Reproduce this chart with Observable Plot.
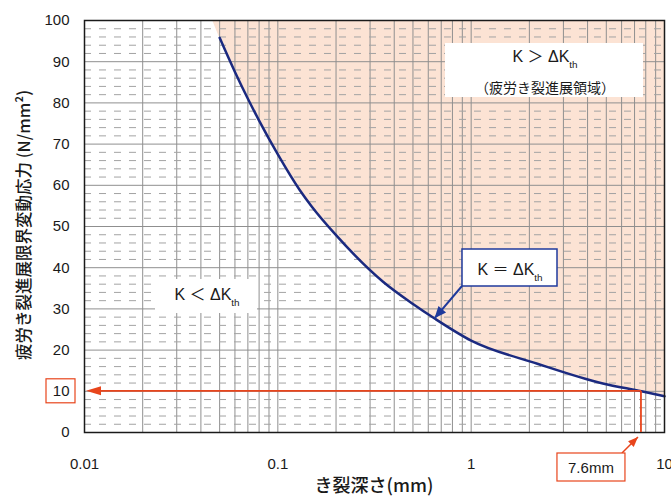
<!DOCTYPE html>
<html>
<head>
<meta charset="utf-8">
<script src="https://cdn.jsdelivr.net/npm/d3@7"></script>
<script src="https://cdn.jsdelivr.net/npm/@observablehq/plot@0.6"></script>
<style>
  html, body { margin: 0; padding: 0; background: #ffffff; }
  #chart svg { display: block; }
</style>
</head>
<body>
<div id="chart"></div>
<script>
// ---- data ----
const crackDepth      = [0.05, 0.06, 0.07, 0.08, 0.10, 0.13, 0.15, 0.20, 0.35, 0.50, 0.65, 1.0, 2.2, 4.8, 7.6, 10];
const thresholdStress = [95.8, 87.5, 81.0, 75.7, 67.5, 58.8, 54.8, 47.9, 36.6, 31.2, 27.6, 22.3, 16.7, 11.9, 10.0, 8.8];
const shadeStartDepth = 0.046;   // where the shaded region meets the top edge
const shadeTopStress  = 100;
const xTicks = [0.01, 0.1, 1, 10];
const yTicks = [0, 10, 20, 30, 40, 50, 60, 70, 80, 90, 100];
const xGridLines = [0.02,0.03,0.04,0.05,0.06,0.07,0.08,0.09,0.1,0.2,0.3,0.4,0.5,0.6,0.7,0.8,0.9,1,2,3,4,5,6,7,8,9];
const yMajorGrid = [10, 20, 30, 40, 50, 60, 70, 80, 90];
const yMinorGrid = d3.range(2, 100, 2).filter(v => v % 10 !== 0);
const markDepth = 7.6;     // mm
const markStress = 10;     // N/mm2
const pointerDepth = 0.65; // where the "K = ΔKth" arrow touches the curve

const curve = crackDepth.map((d, i) => ({depth: d, stress: thresholdStress[i]}));
const shade = [{depth: shadeStartDepth, stress: shadeTopStress}, ...curve];

const RED = "#e8451c", BLUE = "#1f3a9c", NAVY = "#1b2a80";
const LATIN = "'Liberation Sans', Arial, 'Noto Sans CJK JP', sans-serif";
const CJK = "'Noto Sans CJK JP', 'Liberation Sans', sans-serif";

function annotate(index, scales, values, dims) {
  const {x, y} = scales;
  const L = dims.marginLeft, B = dims.height - dims.marginBottom;
  const g = d3.create("svg:g");

  function head(tip, from, len, half, color) {
    const dx = tip[0] - from[0], dy = tip[1] - from[1], d = Math.hypot(dx, dy);
    const ux = dx / d, uy = dy / d;
    const bx = tip[0] - ux * len, by = tip[1] - uy * len;
    g.append("path")
      .attr("d", `M${tip[0]},${tip[1]}L${bx - uy * half},${by + ux * half}L${bx + uy * half},${by - ux * half}Z`)
      .attr("fill", color);
  }
  function kText(cx, base, rel, size) {
    const t = g.append("text").attr("x", cx).attr("y", base)
      .attr("text-anchor", "middle").attr("font-family", LATIN)
      .attr("font-size", size).attr("fill", "#1a1a1a");
    t.append("tspan").text(`K ${rel} ΔK`);
    t.append("tspan").attr("dy", 5.5).attr("font-size", size * 0.62).text("th");
  }

  // region label, upper right
  g.append("rect").attr("x", 445).attr("y", 43).attr("width", 198).attr("height", 54).attr("fill", "#fff");
  kText(545, 62, "＞", 16);
  g.append("text").attr("x", 545).attr("y", 87).attr("dominant-baseline", "central")
    .attr("text-anchor", "middle").attr("font-family", CJK).attr("font-size", 14)
    .attr("fill", "#1a1a1a").text("（疲労き裂進展領域）");

  // region label, lower left
  g.append("rect").attr("x", 155).attr("y", 279).attr("width", 102).attr("height", 34).attr("fill", "#fff");
  kText(207, 300, "＜", 16);

  // K = ΔKth callout
  const tip = [x(pointerDepth), y(thresholdStress[crackDepth.indexOf(pointerDepth)])];
  const start = [462, 286];
  g.append("line").attr("x1", start[0]).attr("y1", start[1]).attr("x2", tip[0]).attr("y2", tip[1])
    .attr("stroke", BLUE).attr("stroke-width", 2);
  head(tip, start, 12, 5, BLUE);
  g.append("rect").attr("x", 462).attr("y", 249).attr("width", 95).attr("height", 37)
    .attr("fill", "#fff").attr("stroke", BLUE).attr("stroke-width", 1.5);
  kText(510, 275, "＝", 16);

  // red reading lines
  const px = x(markDepth), py = y(markStress);
  g.append("line").attr("x1", px).attr("y1", py).attr("x2", L + 12).attr("y2", py)
    .attr("stroke", RED).attr("stroke-width", 1.8);
  head([L + 2, py], [px, py], 15, 4.5, RED);
  g.append("line").attr("x1", px).attr("y1", py).attr("x2", px).attr("y2", B)
    .attr("stroke", RED).attr("stroke-width", 1.8);

  // box around the "10" tick label
  g.append("rect").attr("x", L - 38).attr("y", py - 12).attr("width", 29).attr("height", 24)
    .attr("fill", "none").attr("stroke", RED).attr("stroke-width", 1.2);

  // 7.6mm label with arrow
  const aStart = [px - 19, B + 21], aTip = [px - 3, B + 5];
  g.append("line").attr("x1", aStart[0]).attr("y1", aStart[1]).attr("x2", aTip[0]).attr("y2", aTip[1])
    .attr("stroke", RED).attr("stroke-width", 1.5);
  head(aTip, aStart, 10, 4, RED);
  g.append("rect").attr("x", px - 84).attr("y", B + 21).attr("width", 68).attr("height", 28)
    .attr("fill", "#fff").attr("stroke", RED).attr("stroke-width", 1.2);
  g.append("text").attr("x", px - 50).attr("y", B + 41).attr("text-anchor", "middle")
    .attr("font-family", LATIN).attr("font-size", 15).attr("fill", "#1a1a1a").text(`${markDepth}mm`);

  // axis titles
  g.append("text").attr("transform", `translate(23,225) rotate(-90)`)
    .attr("text-anchor", "middle").attr("dominant-baseline", "central")
    .attr("font-family", CJK).attr("font-size", 16.5).attr("font-weight", 500).attr("fill", "#1a1a1a")
    .text("疲労き裂進展限界変動応力 (N/mm²)");
  g.append("text").attr("x", (L + dims.width - dims.marginRight) / 2).attr("y", 484)
    .attr("text-anchor", "middle").attr("dominant-baseline", "central")
    .attr("font-family", CJK).attr("font-size", 18).attr("font-weight", 500).attr("fill", "#1a1a1a")
    .text("き裂深さ(mm)");

  return g.node();
}

const chart = Plot.plot({
  width: 671,
  height: 497,
  marginLeft: 84, marginRight: 7, marginTop: 20, marginBottom: 65,
  style: {fontFamily: LATIN, fontSize: "15px", color: "#1a1a1a", background: "#ffffff", overflow: "visible"},
  x: {type: "log", domain: [0.01, 10]},
  y: {domain: [0, 100]},
  marks: [
    Plot.areaY(shade, {x: "depth", y1: "stress", y2: shadeTopStress, fill: "#fce3d4", curve: "monotone-x"}),
    Plot.ruleX(xGridLines, {stroke: "#8f8f8f", strokeWidth: 1}),
    Plot.ruleY(yMajorGrid, {stroke: "#8f8f8f", strokeWidth: 1}),
    Plot.ruleY(yMinorGrid, {stroke: "#a3a3a3", strokeWidth: 1, strokeDasharray: "7,8"}),
    Plot.line(curve, {x: "depth", y: "stress", stroke: NAVY, strokeWidth: 2.5, curve: "monotone-x"}),
    Plot.frame({stroke: "#1a1a1a", strokeWidth: 1.5}),
    Plot.axisX(xTicks, {tickSize: 0, tickPadding: 26, tickFormat: d => String(d), label: null, fontSize: 15}),
    Plot.axisY(yTicks, {tickSize: 0, tickPadding: 15, tickFormat: d => String(d), label: null, fontSize: 15}),
    annotate
  ]
});
document.getElementById("chart").appendChild(chart);
</script>
</body>
</html>
